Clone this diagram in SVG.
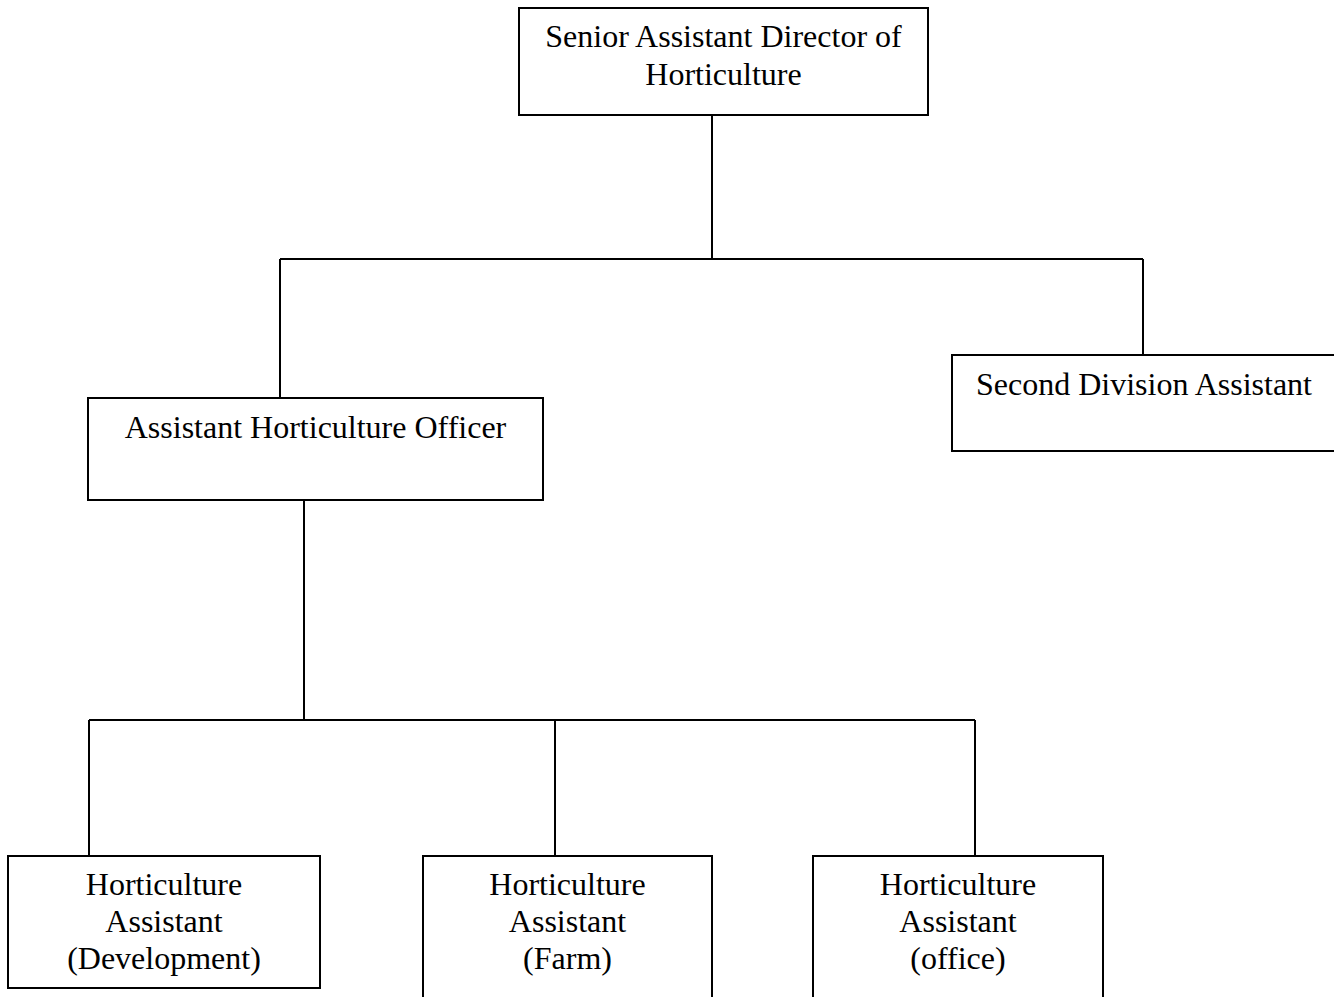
<svg xmlns="http://www.w3.org/2000/svg" width="1334" height="997" viewBox="0 0 1334 997">
<style>
.box{fill:#fff;stroke:#000;stroke-width:2}
.ln{fill:none;stroke:#000;stroke-width:2}
text{font-family:"Liberation Serif","Times New Roman",serif;font-size:32px;fill:#000;text-anchor:middle}
</style>
<rect width="1334" height="997" fill="#fff"/>
<g id="connectors">
<path class="ln" d="M712 115V259M280 259H1143M280 259V398M1143 259V355"/>
<path class="ln" d="M304 500V720M89 720H975M89 720V856M555 720V856M975 720V856"/>
</g>
<g id="n-senior">
<rect class="box" x="519" y="8" width="409" height="107"/>
<text x="723.5" y="47">Senior Assistant Director of</text>
<text x="723.5" y="85">Horticulture</text>
</g>
<g id="n-aho">
<rect class="box" x="88" y="398" width="455" height="102"/>
<text x="315.5" y="438">Assistant Horticulture Officer</text>
</g>
<g id="n-sda">
<rect class="box" x="952" y="355" width="386" height="96"/>
<text x="1144" y="395">Second Division Assistant</text>
</g>
<g id="n-ha-dev">
<rect class="box" x="8" y="856" width="312" height="132"/>
<text x="164" y="895">Horticulture</text>
<text x="164" y="932">Assistant</text>
<text x="164" y="969">(Development)</text>
</g>
<g id="n-ha-farm">
<rect class="box" x="423" y="856" width="289" height="150"/>
<text x="567.5" y="895">Horticulture</text>
<text x="567.5" y="932">Assistant</text>
<text x="567.5" y="969">(Farm)</text>
</g>
<g id="n-ha-office">
<rect class="box" x="813" y="856" width="290" height="150"/>
<text x="958" y="895">Horticulture</text>
<text x="958" y="932">Assistant</text>
<text x="958" y="969">(office)</text>
</g>
</svg>
